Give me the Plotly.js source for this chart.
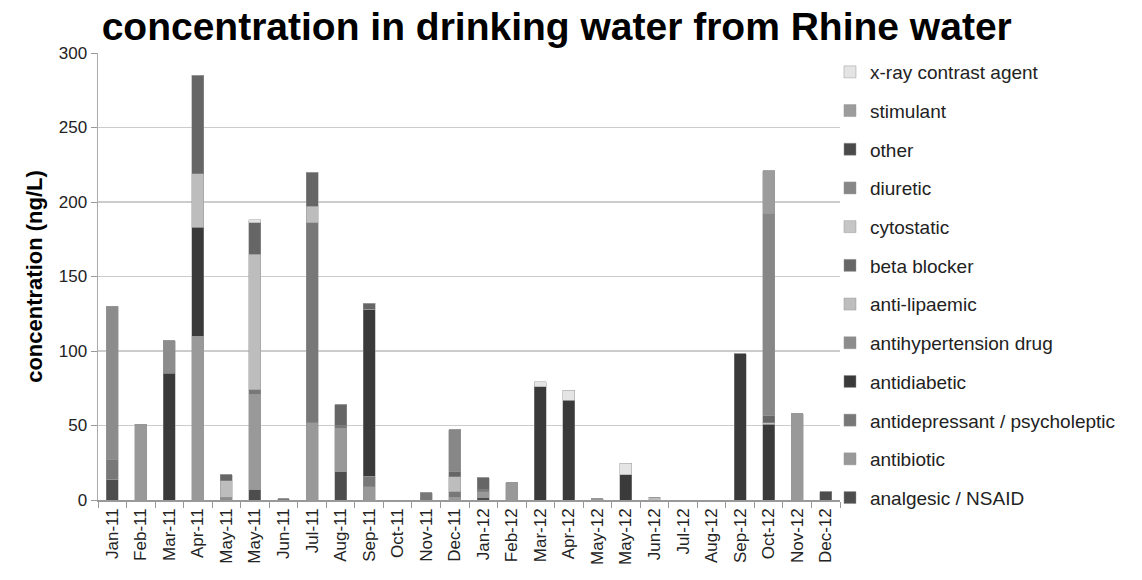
<!DOCTYPE html>
<html>
<head>
<meta charset="utf-8">
<script src="https://cdn.plot.ly/plotly-3.0.1.min.js"></script>
<style>html,body{margin:0;padding:0;background:#fff;}#chart{width:1142px;height:580px;}</style>
</head>
<body>
<div id="chart"></div>
<script>
// Month labels (note: May-11 and May-12 appear twice in the source)
var months = ["Jan-11","Feb-11","Mar-11","Apr-11","May-11","May-11","Jun-11","Jul-11","Aug-11","Sep-11","Oct-11","Nov-11","Dec-11",
              "Jan-12","Feb-12","Mar-12","Apr-12","May-12","May-12","Jun-12","Jul-12","Aug-12","Sep-12","Oct-12","Nov-12","Dec-12"];

// Series values (ng/L), stacked bottom to top
var analgesic        = [14,0,0,0,0,7,0,0,19,0,0,0,0,1.5,0,0,0,0,0,0,0,0,0,0,0,5.5];
var antibiotic       = [0,51,0,110,0,64,0,52,29,9,0,0,2,4,11.5,0,0,0.7,0,0,0,0,0,0,58,0];
var antidepressant   = [13,0,0,0,0,3,1,134,2,7,0,5,3.5,1.5,0,0,0,0,0,0,0,0,0,0,0,0];
var antidiabetic     = [0,0,85,73,0,0,0,0,0,112,0,0,0,0,0,76,67,0,17,0,0,0,98,51,0,0];
var antihypertension = [103,0,22,0,2,0,0,0,0,0,0,0,0,0,0,0,0,0,0,0,0,0,0,0,0,0];
var antilipaemic     = [0,0,0,36,11,91,0,11,0,0,0,0,10,0,0,0,0,0,0,2,0,0,0,1,0,0];
var betablocker      = [0,0,0,66,4,21,0,23,14,4,0,0,3.5,8,0,0,0,0,0,0,0,0,0,5,0,0];
var cytostatic       = [0,0,0,0,0,0,0,0,0,0,0,0,0,0,0,0,0,0,0,0,0,0,0,0,0,0];
var diuretic         = [0,0,0,0,0,0,0,0,0,0,0,0,28,0,0,0,0,0,0,0,0,0,0,135,0,0];
var other            = [0,0,0,0,0,0,0,0,0,0,0,0,0,0,0,0,0,0,0,0,0,0,0,0,0,0];
var stimulant        = [0,0,0,0,0,0,0,0,0,0,0,0,0,0,0,0,0,0,0,0,0,0,0,29,0,0];
var xray             = [0,0,0,0,0,2,0,0,0,0,0,0,0,0,0,3.4,6.7,0,7.6,0,0,0,0,0,0,0];

var seriesNames = ["analgesic / NSAID","antibiotic","antidepressant / psycholeptic","antidiabetic","antihypertension drug",
                   "anti-lipaemic","beta blocker","cytostatic","diuretic","other","stimulant","x-ray contrast agent"];
var seriesValues = [analgesic,antibiotic,antidepressant,antidiabetic,antihypertension,antilipaemic,betablocker,cytostatic,diuretic,other,stimulant,xray];
var seriesColors = ["#4d4d4d","#999999","#787878","#3a3a3a","#8c8c8c","#bdbdbd","#666666","#c6c6c6","#878787","#4a4a4a","#9c9c9c","#e4e4e4"];

var keys = months.map(function(m,i){ return "c" + i; });

var traces = seriesNames.map(function(name, i){
  return {
    type: "bar",
    name: name,
    x: keys,
    y: seriesValues[i],
    legendgroup: "g" + i,
    legendrank: 100 - i,
    marker: {color: seriesColors[i], line: {color: "rgba(150,150,150,0.8)", width: 0.6}},
    hoverinfo: "name+y"
  };
});

var layout = {
  width: 1142, height: 580,
  barmode: "stack",
  bargap: 0.58,
  paper_bgcolor: "#ffffff",
  plot_bgcolor: "#ffffff",
  margin: {l: 98, r: 302, t: 53, b: 80},
  font: {family: "Liberation Sans, Arial, sans-serif", color: "#222"},
  title: {
    text: "concentration in drinking water from Rhine water",
    font: {family: "Liberation Sans, Arial, sans-serif", size: 39, color: "#000", weight: "bold"},
    x: 0.089, xanchor: "left", xref: "container",
    y: 0.978, yanchor: "top", yref: "container"
  },
  xaxis: {
    type: "category",
    tickmode: "array",
    tickvals: keys,
    ticktext: months,
    tickangle: -90,
    tickson: "boundaries",
    ticks: "outside",
    ticklen: 6,
    tickcolor: "#999",
    tickfont: {size: 17, color: "#222"},
    showline: true,
    linecolor: "#999",
    linewidth: 1.5,
    showgrid: false
  },
  yaxis: {
    range: [0, 300],
    dtick: 50,
    ticks: "outside",
    ticklen: 6,
    tickcolor: "#999",
    tickfont: {size: 17, color: "#222"},
    showline: true,
    linecolor: "#aaa",
    linewidth: 1.5,
    showgrid: true,
    gridcolor: "#cccccc",
    gridwidth: 1.5,
    zeroline: false,
    title: {text: "concentration (ng/L)", font: {size: 22, color: "#000", weight: "bold"}, standoff: 10}
  },
  legend: {
    traceorder: "grouped",
    tracegroupgap: 11,
    x: 0.9865, xanchor: "left",
    y: 1.0, yanchor: "top",
    maxheight: 600,
    bgcolor: "rgba(0,0,0,0)",
    font: {size: 19, color: "#222"}
  },
  showlegend: true
};

Plotly.newPlot("chart", traces, layout, {displayModeBar: false, staticPlot: true});
</script>
</body>
</html>
